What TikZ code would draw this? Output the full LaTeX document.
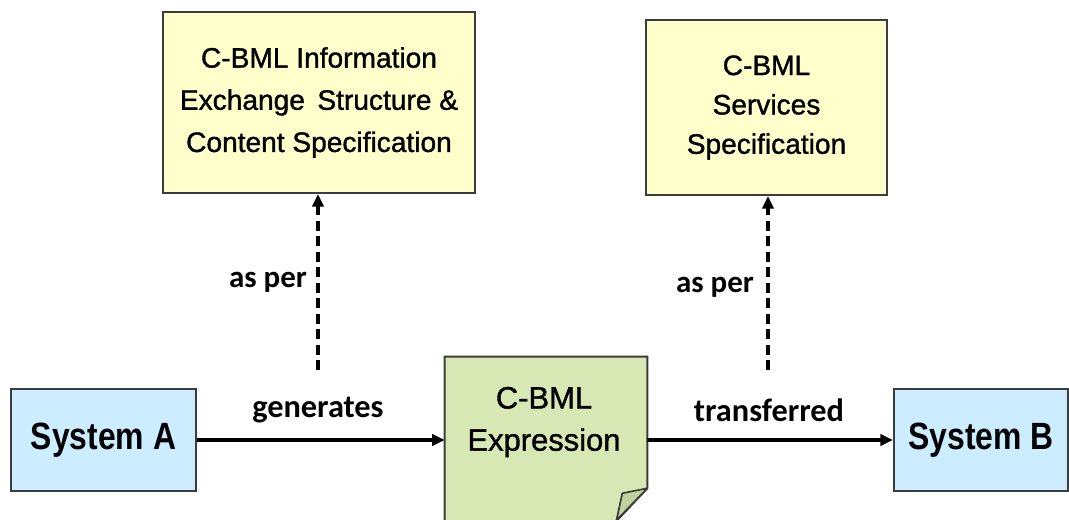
\documentclass[tikz,border=0pt]{standalone}
\usepackage{fontspec}
\setmainfont{Liberation Sans}
\newfontfamily\boxfont[FakeBold=1.2]{Liberation Sans}
\newfontfamily\labfont{Carlito}
\newfontfamily\sysfont[FakeStretch=0.84]{Liberation Sans}
\usetikzlibrary{arrows.meta}
\definecolor{specyellow}{RGB}{255,255,204}
\definecolor{sysblue}{RGB}{204,236,255}
\definecolor{exprgreen}{RGB}{215,232,180}
\definecolor{foldgreen}{RGB}{192,210,158}
\definecolor{edgegray}{RGB}{60,60,60}
\begin{document}
\begin{tikzpicture}
\useasboundingbox (0,0) rectangle (26.725,-13);
\clip (0,0) rectangle (26.725,-13);
\tikzset{
  specbox/.style={draw=edgegray, line width=1.4pt, fill=specyellow, align=center,
    font=\boxfont\fontsize{20}{30}\selectfont, inner sep=0pt},
  sysbox/.style={draw=edgegray, line width=1.4pt, fill=sysblue,
    font=\sysfont\bfseries\fontsize{27}{30}\selectfont, inner sep=0pt,
    minimum height=2.55cm},
  flow/.style={line width=2.3pt, -{Triangle[length=9pt,width=8pt]}},
  aspline/.style={line width=2.3pt, dash pattern=on 7pt off 4pt, -{Triangle[length=9pt,width=8pt]}},
  lbl/.style={font=\labfont\bfseries\fontsize{23}{26}\selectfont, inner sep=0pt},
  asplbl/.style={font=\labfont\bfseries\fontsize{22}{26}\selectfont, inner sep=0pt},
}
% top specification boxes
\node[specbox, minimum width=7.8cm, minimum height=4.525cm] (box1) at (7.975,-2.5625)
  {C-BML Information\\Exchange\, Structure \&\\Content Specification};
\node[specbox, minimum width=6.025cm, minimum height=4.375cm,
  font=\boxfont\fontsize{20}{28}\selectfont] (box2) at (19.1625,-2.6875)
  {C-BML\\Services\\Specification};
% systems
\node[sysbox, minimum width=4.625cm] (sysA) at (2.5875,-11.0) {System A};
\node[sysbox, minimum width=4.35cm] (sysB) at (24.525,-11.0) {System B};
% expression page
\node[minimum width=5.05cm, minimum height=4.125cm, inner sep=0pt] (expr) at (13.65,-10.9875) {};
\draw[draw=edgegray, line width=1.4pt, fill=exprgreen]
  (expr.north west) -- (expr.north east) -- ([yshift=0.85cm]expr.south east)
  -- ([xshift=-0.8cm]expr.south east) -- (expr.south west) -- cycle;
\draw[draw=edgegray, line width=1.2pt, fill=foldgreen, line join=round]
  ([yshift=0.85cm]expr.south east) -- ([xshift=-0.625cm,yshift=0.725cm]expr.south east)
  -- ([xshift=-0.77cm,yshift=0.05cm]expr.south east) -- cycle;
\node[align=center, font=\boxfont\fontsize{22}{30}\selectfont, inner sep=0pt] (exprtext) at (13.6,-10.55)
  {C-BML\\Expression};
% connectors
\coordinate (d1) at (7.95,-9.25);
\coordinate (d2) at (19.2,-9.25);
\draw[aspline] (d1) -- (d1 |- box1.south);
\draw[aspline] (d2) -- (d2 |- box2.south);
\draw[flow] (sysA.east) -- (sysA.east -| expr.west);
\draw[flow] (sysB.west -| expr.east) -- (sysB.west);
% labels
\node[lbl] (lgen) at (7.95,-10.25) {generates};
\node[lbl] (ltr) at (19.225,-10.25) {transferred};
\node[asplbl] (las1) at (6.7,-7.05) {as per};
\node[asplbl] (las2) at (17.875,-7.175) {as per};
\end{tikzpicture}
\end{document}
